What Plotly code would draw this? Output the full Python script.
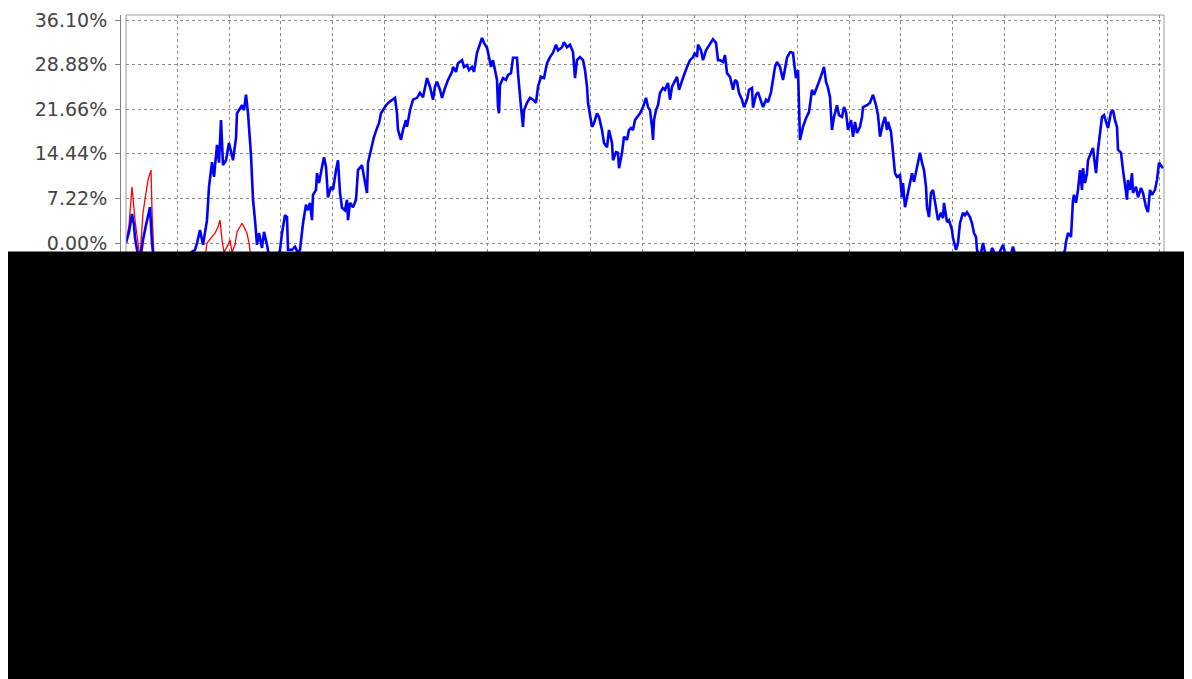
import plotly.graph_objects as go

# Trading-day index and cumulative return (%) of the fund (blue)
fund_day = [0, 3, 6, 8, 9, 11, 14, 17, 20, 22, 24, 26, 28, 49, 69, 71, 74, 77, 81, 83,
            86, 88, 91, 93, 95, 97, 100, 103, 107, 110, 111, 116, 118, 120, 122, 125, 127, 129, 131, 133,
            136, 138, 141, 144, 150, 154, 156, 159, 161, 162, 166, 169, 172, 174, 177, 180, 182, 184, 186, 187,
            190, 191, 193, 196, 198, 200, 202, 205, 207, 210, 212, 214, 216, 219, 221, 222, 224, 227, 230, 232,
            236, 238, 241, 242, 245, 246, 248, 251, 253, 255, 257, 260, 263, 267, 269, 271, 272, 275, 277, 280,
            281, 284, 287, 291, 294, 297, 299, 301, 304, 307, 309, 311, 314, 316, 319, 322, 326, 327, 330, 332,
            336, 338, 341, 343, 346, 348, 351, 353, 356, 358, 361, 363, 365, 367, 369, 371, 372, 373, 374, 377,
            380, 382, 385, 387, 391, 392, 395, 397, 398, 401, 404, 407, 410, 412, 415, 418, 421, 424, 427, 430,
            432, 436, 438, 441, 444, 447, 449, 451, 454, 457, 459, 461, 462, 464, 466, 468, 471, 473, 476, 478,
            481, 483, 486, 487, 490, 492, 493, 496, 498, 501, 503, 505, 507, 509, 511, 514, 517, 520, 522, 524,
            526, 527, 528, 530, 532, 534, 537, 539, 542, 544, 546, 549, 551, 553, 556, 558, 561, 564, 567, 569,
            571, 572, 575, 577, 580, 582, 585, 587, 590, 592, 594, 597, 599, 601, 604, 607, 609, 611, 613, 616,
            618, 621, 623, 626, 627, 630, 632, 635, 637, 640, 642, 645, 647, 649, 651, 654, 657, 659, 661, 664,
            667, 668, 670, 672, 673, 674, 677, 680, 683, 686, 688, 691, 693, 696, 698, 700, 702, 704, 706, 708,
            711, 713, 716, 718, 720, 722, 725, 727, 729, 731, 734, 736, 737, 741, 744, 747, 750, 752, 754, 757,
            759, 761, 762, 765, 767, 769, 771, 774, 776, 777, 779, 781, 783, 786, 788, 790, 792, 794, 796, 798,
            800, 801, 803, 805, 807, 810, 812, 815, 817, 818, 821, 823, 826, 827, 830, 832, 834, 837, 839, 841,
            844, 846, 848, 850, 851, 854, 857, 859, 864, 866, 871, 877, 879, 884, 887, 890, 904, 924, 936, 939,
            940, 942, 945, 947, 948, 950, 952, 954, 956, 957, 959, 961, 962, 965, 967, 968, 970, 972, 974, 976,
            978, 980, 982, 985, 987, 989, 991, 992, 995, 997, 999, 1001, 1002, 1004, 1006, 1007, 1010, 1012, 1015, 1017,
            1020, 1022, 1024, 1026, 1029, 1031, 1033, 1036, 1037]
fund_ret = [0.0, 1.8, 4.7, 2.9, 0.8, -1.1, -3.1, 0.5, 2.9, 4.5, 5.8, 0.0, -3.1, -3.1, -1.1, 0.0, 2.1, -0.3, 3.7, 9.1,
            13.1, 10.7, 15.9, 13.0, 19.9, 12.6, 13.4, 16.2, 13.4, 17.0, 21.0, 22.3, 21.5, 24.0, 21.0, 14.2, 7.0, 3.7, -0.3, 1.6,
            -0.8, 1.8, -0.3, -3.1, -3.1, -1.1, 1.6, 4.5, 4.2, -1.1, -1.1, -0.6, -1.6, -1.1, 3.2, 6.2, 5.3, 6.5, 3.7, 7.8,
            8.6, 11.3, 9.7, 12.3, 13.9, 12.3, 7.4, 9.1, 8.6, 11.8, 13.4, 8.1, 5.7, 5.3, 7.0, 3.7, 6.5, 5.8, 7.0, 11.8,
            12.6, 10.7, 8.1, 13.0, 15.1, 15.5, 17.2, 18.6, 19.4, 21.0, 21.5, 22.3, 22.8, 23.2, 23.5, 21.0, 18.3, 16.7, 18.3, 19.9,
            18.8, 21.5, 23.2, 23.5, 24.3, 23.6, 25.3, 26.7, 25.3, 23.2, 25.3, 26.1, 24.8, 23.5, 25.1, 26.4, 27.7, 28.5, 27.7, 29.1,
            29.6, 28.5, 28.8, 28.0, 28.5, 27.7, 30.8, 31.7, 33.2, 32.4, 31.6, 30.1, 28.5, 29.6, 28.0, 26.4, 22.0, 21.0, 25.6, 26.7,
            26.4, 27.2, 27.5, 30.0, 30.0, 27.5, 22.0, 18.8, 21.5, 22.7, 23.5, 23.2, 22.7, 25.3, 26.9, 26.7, 29.1, 30.1, 30.8, 32.1,
            31.2, 31.7, 32.5, 31.7, 32.1, 30.9, 26.7, 29.6, 30.1, 29.6, 28.0, 25.3, 22.7, 21.0, 18.8, 19.4, 21.0, 20.4, 18.3, 16.2,
            15.5, 18.3, 16.2, 13.4, 14.7, 14.6, 12.1, 14.6, 17.2, 16.7, 18.3, 18.6, 18.3, 19.9, 20.4, 21.0, 22.0, 23.5, 22.0, 21.5,
            18.8, 16.7, 19.9, 21.5, 22.3, 24.3, 25.1, 24.8, 25.9, 23.2, 25.3, 26.4, 26.9, 24.8, 26.4, 27.2, 28.5, 29.6, 30.1, 30.8,
            30.1, 32.1, 31.2, 29.6, 31.2, 31.7, 32.4, 33.0, 32.4, 29.6, 29.6, 29.3, 30.4, 27.5, 26.9, 24.8, 26.4, 26.1, 24.3, 23.2,
            22.0, 23.2, 24.8, 25.1, 21.9, 24.0, 24.4, 22.7, 22.0, 23.2, 22.8, 24.4, 26.4, 28.5, 29.3, 28.5, 26.4, 28.5, 30.0, 30.9,
            30.8, 29.3, 26.7, 28.0, 22.7, 16.7, 18.8, 20.2, 21.2, 24.8, 24.0, 25.1, 26.1, 27.5, 28.5, 26.1, 25.1, 23.6, 18.3, 20.4,
            22.3, 20.7, 20.4, 22.0, 21.2, 18.3, 19.9, 17.2, 19.6, 17.8, 18.8, 20.4, 22.0, 22.3, 22.7, 24.0, 22.3, 20.7, 17.2, 19.4,
            20.4, 18.3, 19.6, 18.0, 13.9, 11.3, 10.7, 11.0, 7.4, 9.7, 5.8, 7.4, 9.1, 11.3, 9.9, 11.3, 13.1, 14.6, 13.0, 11.8,
            9.1, 5.8, 4.2, 8.1, 8.6, 5.3, 3.7, 4.9, 4.0, 6.5, 3.4, 3.7, 2.1, 0.8, -1.1, 0.0, 3.2, 4.9, 4.5, 5.0,
            4.2, 3.2, 1.6, 1.0, -1.1, -2.4, 0.0, -1.5, -2.4, -0.8, -2.4, -0.3, -1.5, -2.4, -0.6, -2.4, -3.1, -3.1, -2.4, -1.1,
            0.2, 1.6, 1.0, 7.0, 7.8, 6.5, 8.6, 11.8, 8.6, 12.1, 9.7, 11.3, 13.4, 14.6, 15.4, 13.9, 11.3, 15.1, 17.8, 20.4,
            20.7, 19.6, 18.6, 21.2, 21.5, 19.9, 18.8, 15.1, 14.6, 11.8, 9.7, 7.0, 10.2, 8.6, 11.3, 8.1, 9.1, 7.4, 8.9, 8.1,
            5.8, 5.0, 8.6, 7.8, 8.6, 10.2, 13.0, 12.3, 12.1]

# Trading-day index and cumulative return (%) of the benchmark (red)
bench_day = [0, 3, 6, 9, 12, 14, 17, 20, 22, 25, 26, 28, 49, 79, 81, 86, 89, 92, 94, 96,
             98, 102, 104, 106, 109, 111, 116, 118, 121, 123, 125, 140]
bench_ret = [0.0, 2.9, 9.1, 3.7, 0.0, -2.4, 4.9, 7.8, 10.2, 11.8, 5.3, -2.4, -3.6, -2.4, 0.0, 1.0, 1.6, 2.6, 3.7, 0.5,
             -1.5, -0.3, 0.5, -1.5, -0.3, 1.8, 3.2, 2.6, 1.6, 0.0, -2.4, -4.0]

# Y-axis ticks (percent)
y_tick_vals = [-57.76, -50.54, -43.32, -36.10, -28.88, -21.66, -14.44, -7.22,
               0.00, 7.22, 14.44, 21.66, 28.88, 36.10]
y_tick_text = [f"{v:.2f}%" for v in y_tick_vals]

GRID = "#8a8a8a"

fig = go.Figure()
fig.add_trace(go.Scatter(x=bench_day, y=bench_ret, mode="lines",
                         line=dict(color="#ff0000", width=1.3), showlegend=False))
fig.add_trace(go.Scatter(x=fund_day, y=fund_ret, mode="lines",
                         line=dict(color="#0000ff", width=2.6), showlegend=False))

# the page adds an 8px body margin; the figure is sized and placed to compensate
OFF = 8
W, H = 1192 - OFF, 679 - OFF
L, T = 120 - OFF, 15 - OFF
R = W - (1164 - OFF)
B = H - (640 - OFF)
pw = W - L - R
ph = H - T - B
x_dom0 = 6 / pw

fig.update_layout(
    template="none",
    width=W, height=H,
    margin=dict(l=L, r=R, t=T, b=B, pad=0),
    paper_bgcolor="white", plot_bgcolor="white",
    showlegend=False,
    xaxis=dict(domain=[x_dom0, 1], range=[0, 1038], tick0=0, dtick=51.65,
               showgrid=True, gridcolor=GRID, gridwidth=1, griddash="3px,3px",
               showticklabels=False, ticks="", zeroline=False, showline=False,
               automargin=False),
    yaxis=dict(anchor="free", position=0, range=[-64.27, 36.91],
               tickmode="array", tickvals=y_tick_vals, ticktext=y_tick_text,
               ticks="outside", ticklen=5, tickcolor="#808080", tickwidth=1,
               showline=True, linecolor="#808080", linewidth=1,
               showgrid=True, gridcolor=GRID, gridwidth=1, griddash="3px,3px",
               zeroline=False, automargin=False, ticklabelstandoff=4,
               tickfont=dict(family="DejaVu Sans", size=19, color="#444444")),
    shapes=[
        dict(type="rect", xref="paper", yref="paper", x0=x_dom0, x1=1, y0=0, y1=1,
             line=dict(color="#999999", width=1), fillcolor="rgba(0,0,0,0)", layer="above"),
        dict(type="rect", xref="paper", yref="paper",
             x0=(7 - OFF - L) / pw, x1=(1187 - OFF - L) / pw,
             y0=-0.2, y1=(H - B - (251.5 - OFF)) / ph,
             line=dict(width=0), fillcolor="#000000", layer="above"),
    ],
)

fig.write_html("out.html", config={"displayModeBar": False})
